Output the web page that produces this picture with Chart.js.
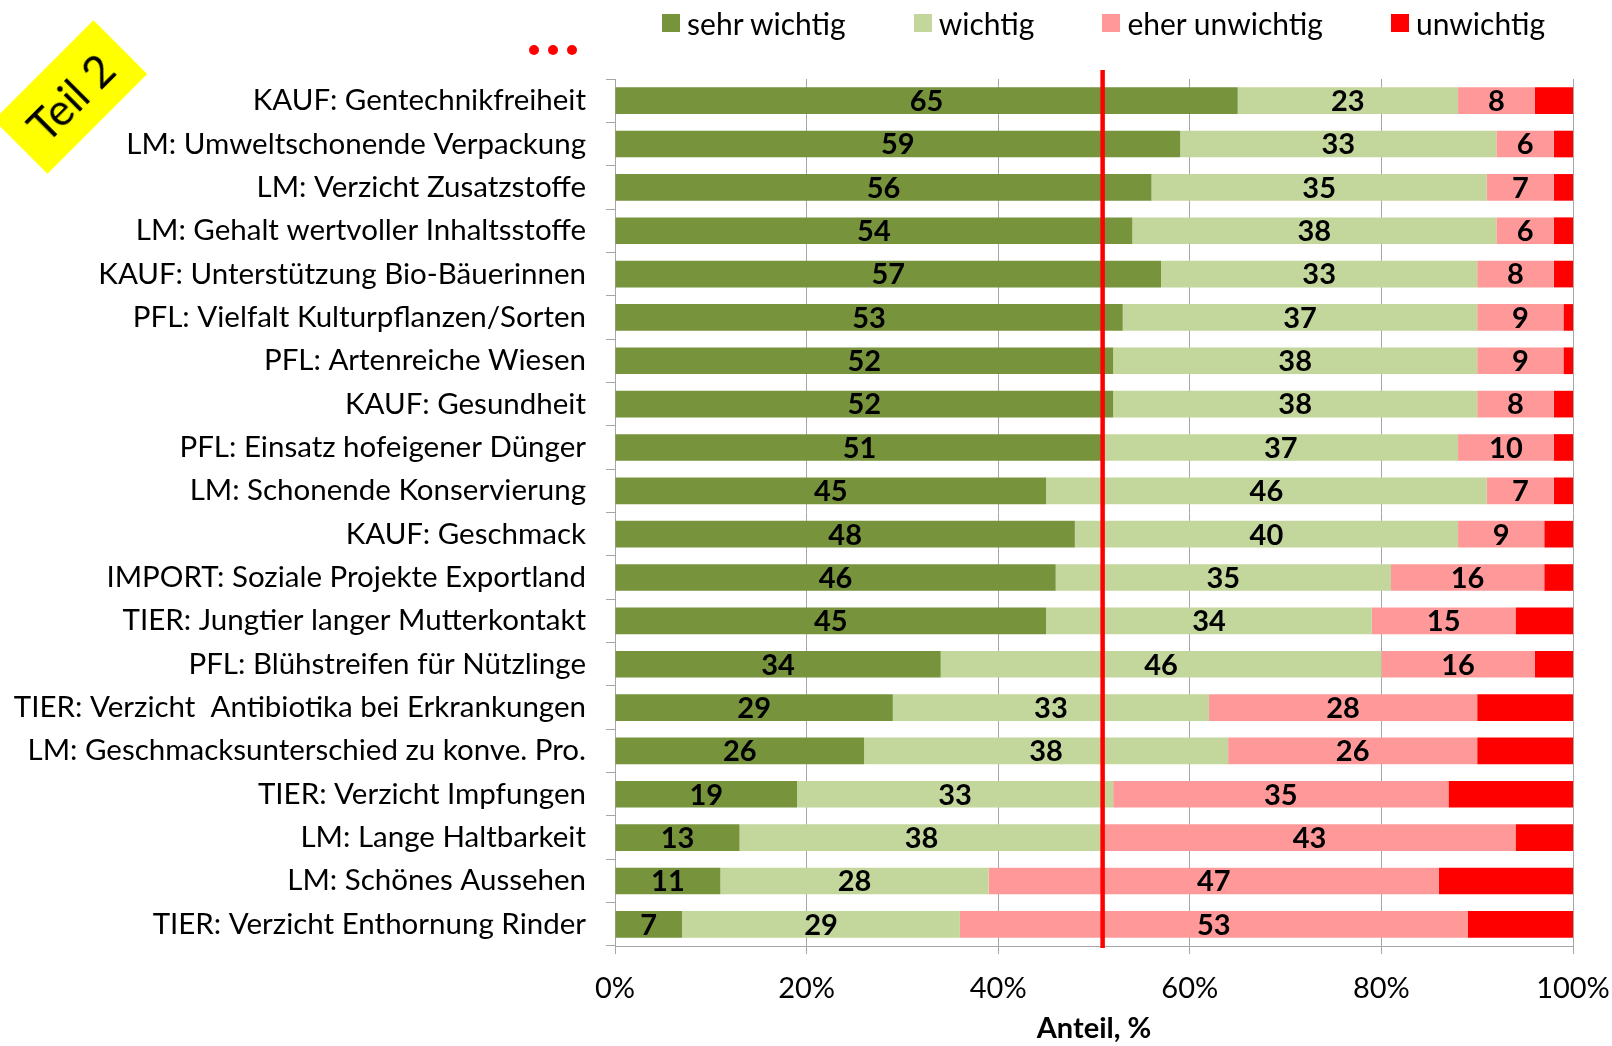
<!DOCTYPE html>
<html>
<head>
<meta charset="utf-8">
<script src="https://cdn.jsdelivr.net/npm/chart.js@4"></script>
<style>
html, body { margin: 0; padding: 0; background: #fff; overflow: hidden; }
#wrap { position: relative; width: 1612px; height: 1046px; font-family: Lato, 'Open Sans', sans-serif; }
#teil { position: absolute; left: 0px; top: 59px; width: 141px; height: 76px; background: #FFFF00;
        transform: rotate(-45deg); display: flex; align-items: center; justify-content: center;
        font-size: 44px; color: #000; }
.dot { position: absolute; top: 45px; width: 10px; height: 10px; border-radius: 50%; background: #FF0000; }
#legend { position: absolute; right: 67px; top: 5px; display: flex; gap: 68px; font-size: 30px; line-height: 36px; }
#legend .item { display: flex; align-items: center; }
#legend .box { width: 18px; height: 18px; margin-right: 7px; }
</style>
</head>
<body>
<div id="wrap">
  <canvas id="chart" width="1612" height="1046"></canvas>
  <div id="teil">Teil 2</div>
  <div class="dot" style="left:529px"></div>
  <div class="dot" style="left:548px"></div>
  <div class="dot" style="left:567px"></div>
  <div id="legend"></div>
</div>
<script>
const categories = [
  'KAUF: Gentechnikfreiheit',
  'LM: Umweltschonende Verpackung',
  'LM: Verzicht Zusatzstoffe',
  'LM: Gehalt wertvoller Inhaltsstoffe',
  'KAUF: Unterstützung Bio-Bäuerinnen',
  'PFL: Vielfalt Kulturpflanzen/Sorten',
  'PFL: Artenreiche Wiesen',
  'KAUF: Gesundheit',
  'PFL: Einsatz hofeigener Dünger',
  'LM: Schonende Konservierung',
  'KAUF: Geschmack',
  'IMPORT: Soziale Projekte Exportland',
  'TIER: Jungtier langer Mutterkontakt',
  'PFL: Blühstreifen für Nützlinge',
  'TIER: Verzicht  Antibiotika bei Erkrankungen',
  'LM: Geschmacksunterschied zu konve. Pro.',
  'TIER: Verzicht Impfungen',
  'LM: Lange Haltbarkeit',
  'LM: Schönes Aussehen',
  'TIER: Verzicht Enthornung Rinder'
];
const sehrWichtig   = [65, 59, 56, 54, 57, 53, 52, 52, 51, 45, 48, 46, 45, 34, 29, 26, 19, 13, 11, 7];
const wichtig       = [23, 33, 35, 38, 33, 37, 38, 38, 37, 46, 40, 35, 34, 46, 33, 38, 33, 38, 28, 29];
const eherUnwichtig = [8, 6, 7, 6, 8, 9, 9, 8, 10, 7, 9, 16, 15, 16, 28, 26, 35, 43, 47, 53];
const unwichtig     = [4, 2, 2, 2, 2, 1, 1, 2, 2, 2, 3, 3, 6, 4, 10, 10, 13, 6, 14, 11];
const xTicks = [0, 20, 40, 60, 80, 100];
const redLineAt = 50.9;

const FONT = "Lato, 'Open Sans', sans-serif";

// value labels in the middle of each segment (not for "unwichtig")
const barLabels = {
  id: 'barLabels',
  afterDatasetsDraw(chart) {
    const ctx = chart.ctx;
    ctx.save();
    ctx.font = 'bold 29px ' + FONT;
    ctx.fillStyle = '#000';
    ctx.textAlign = 'center';
    ctx.textBaseline = 'middle';
    chart.data.datasets.forEach((ds, i) => {
      if (!ds.showValues) return;
      chart.getDatasetMeta(i).data.forEach((bar, j) => {
        ctx.fillText(String(ds.data[j]), (bar.x + bar.base) / 2, bar.y + 1);
      });
    });
    ctx.restore();
  }
};

// red marker line
const redLine = {
  id: 'redLine',
  afterDatasetsDraw(chart) {
    const ctx = chart.ctx;
    const x = chart.scales.x.getPixelForValue(redLineAt);
    ctx.save();
    ctx.strokeStyle = '#FF0000';
    ctx.lineWidth = 4.5;
    ctx.beginPath();
    ctx.moveTo(x, 70);
    ctx.lineTo(x, chart.chartArea.bottom + 2);
    ctx.stroke();
    ctx.restore();
  }
};

const chart = new Chart(document.getElementById('chart').getContext('2d'), {
  type: 'bar',
  data: {
    labels: categories,
    datasets: [
      { label: 'sehr wichtig', data: sehrWichtig, backgroundColor: '#77933C', showValues: true },
      { label: 'wichtig', data: wichtig, backgroundColor: '#C3D69B', showValues: true },
      { label: 'eher unwichtig', data: eherUnwichtig, backgroundColor: '#FF9999', showValues: true },
      { label: 'unwichtig', data: unwichtig, backgroundColor: '#FF0000', showValues: false }
    ]
  },
  options: {
    indexAxis: 'y',
    responsive: false,
    animation: false,
    devicePixelRatio: 1,
    barPercentage: 0.615,
    categoryPercentage: 1,
    layout: { padding: { top: 79, right: 39, left: 0, bottom: 0 } },
    plugins: {
      legend: { display: false },
      tooltip: { enabled: false }
    },
    scales: {
      x: {
        stacked: true,
        min: 0,
        max: 100,
        afterBuildTicks: s => { s.ticks = xTicks.map(v => ({ value: v })); },
        afterFit: s => { s.height = 100; s.paddingLeft = 0; s.paddingRight = 0; },
        ticks: { callback: v => v + '%', color: '#000', font: { family: FONT, size: 29 }, padding: 17, maxRotation: 0 },
        grid: { color: '#A6A6A6', tickLength: 8 },
        border: { color: '#A6A6A6' },
        title: { display: true, text: 'Anteil, %', color: '#000', font: { family: FONT, size: 29, weight: 'bold' }, padding: { top: 0, bottom: 0 } }
      },
      y: {
        stacked: true,
        offset: true,
        afterFit: s => { s.width = 615; },
        ticks: { color: '#000', font: { family: FONT, size: 29.5 }, padding: 20, autoSkip: false },
        grid: { offset: true, drawOnChartArea: false, tickLength: 9, color: '#A6A6A6' },
        border: { color: '#A6A6A6' }
      }
    }
  },
  plugins: [barLabels, redLine]
});

// legend built from the chart's datasets
const legend = document.getElementById('legend');
chart.data.datasets.forEach(ds => {
  const item = document.createElement('div');
  item.className = 'item';
  const box = document.createElement('span');
  box.className = 'box';
  box.style.background = ds.backgroundColor;
  const txt = document.createElement('span');
  txt.textContent = ds.label;
  item.appendChild(box);
  item.appendChild(txt);
  legend.appendChild(item);
});
</script>
</body>
</html>
